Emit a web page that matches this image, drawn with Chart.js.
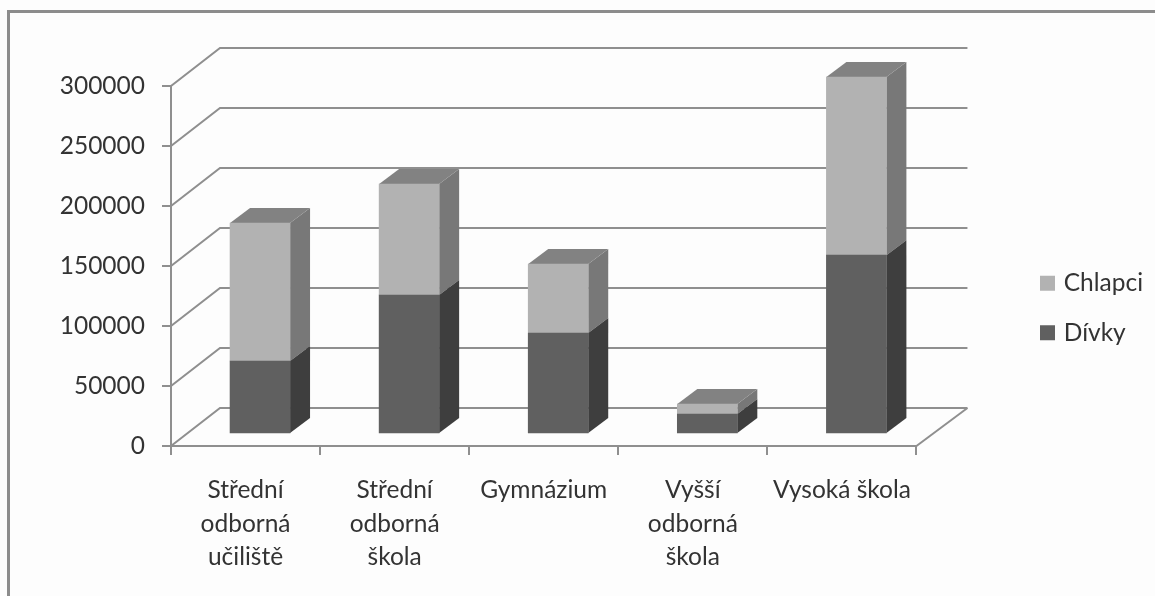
<!DOCTYPE html>
<html lang="cs">
<head>
<meta charset="utf-8">
<title>Studenti podle typu školy</title>
<style>
html,body{margin:0;padding:0;background:#fff;overflow:hidden}
#wrap{position:relative;width:1155px;height:596px}
canvas{display:block;filter:blur(0.45px)}
</style>
<script src="https://cdn.jsdelivr.net/npm/chart.js@4/dist/chart.umd.min.js"></script>
</head>
<body>
<div id="wrap"><canvas id="c" width="1155" height="596"></canvas></div>
<script>
const categories = [["Střední","odborná","učiliště"],["Střední","odborná","škola"],["Gymnázium"],["Vyšší","odborná","škola"],["Vysoká škola"]];
const divky = [60800, 115800, 84200, 16700, 149000];
const chlapci = [115000, 92500, 57500, 8300, 148500];

const WALL = {dx:49, dy:-38};
const BAR = {dx:14.5, dy:-12, depthX:20, depthY:-15};
const GRID = '#8f8f8f';
const TEXT = '#333333';
const FONT = {family:'Lato', size:24.5, lineHeight:1.35};

const faces = {
  'Dívky':   {side:'#3e3e3e', top:'#808080'},
  'Chlapci': {side:'#787878', top:'#828282'}
};

const depthPlugin = {
  id:'depth',
  beforeDraw(chart){
    const {ctx,width,height} = chart;
    ctx.save();
    ctx.fillStyle='#fdfdfd';
    ctx.fillRect(0,0,width,height);
    ctx.strokeStyle='#8c8c8c';
    ctx.lineWidth=3;
    ctx.beginPath();
    ctx.moveTo(8.5,height);ctx.lineTo(8.5,11.5);ctx.lineTo(width,11.5);
    ctx.stroke();
    ctx.restore();
  },
  beforeDatasetsDraw(chart){
    const {ctx,chartArea:a,scales:{y}} = chart;
    ctx.save();
    ctx.strokeStyle=GRID;
    ctx.lineWidth=2;
    y.ticks.forEach(t=>{
      const py=y.getPixelForValue(t.value);
      ctx.beginPath();
      ctx.moveTo(a.left,py);
      ctx.lineTo(a.left+WALL.dx,py+WALL.dy);
      ctx.lineTo(a.right+WALL.dx+2,py+WALL.dy);
      ctx.stroke();
    });
    const p0=y.getPixelForValue(0);
    ctx.beginPath();
    ctx.moveTo(a.right,p0);
    ctx.lineTo(a.right+WALL.dx+2,p0+WALL.dy);
    ctx.stroke();
    ctx.restore();
  },
  beforeDatasetDraw(chart,args){
    const {ctx} = chart;
    const ds = chart.data.datasets[args.index];
    const f = faces[ds.label];
    const isTop = args.index===chart.data.datasets.length-1;
    ctx.save();
    ctx.translate(BAR.dx,BAR.dy);
    args.meta.data.forEach(el=>{
      const {x,y,base,width} = el.getProps(['x','y','base','width'],true);
      const r=x+width/2, l=x-width/2;
      ctx.fillStyle=f.side;
      ctx.beginPath();
      ctx.moveTo(r,y);ctx.lineTo(r+BAR.depthX,y+BAR.depthY);
      ctx.lineTo(r+BAR.depthX,base+BAR.depthY);ctx.lineTo(r,base);
      ctx.closePath();ctx.fill();
      if(isTop){
        ctx.fillStyle=f.top;
        ctx.beginPath();
        ctx.moveTo(l,y);ctx.lineTo(l+BAR.depthX,y+BAR.depthY);
        ctx.lineTo(r+BAR.depthX,y+BAR.depthY);ctx.lineTo(r,y);
        ctx.closePath();ctx.fill();
      }
    });
  },
  afterDatasetDraw(chart){
    chart.ctx.restore();
  },
  afterLayout(chart){
    const lg=chart.legend;
    const w=lg.width;
    lg.left=1018.5; lg.right=lg.left+w;
    lg.top=10; lg.bottom=lg.top+596;
  }
};

const chart = new Chart(document.getElementById('c'),{
  type:'bar',
  data:{
    labels:categories,
    datasets:[
      {label:'Dívky',data:divky,backgroundColor:'#606060',barThickness:60,clip:false,stack:'s'},
      {label:'Chlapci',data:chlapci,backgroundColor:'#b2b2b2',barThickness:60,clip:false,stack:'s'}
    ]
  },
  plugins:[depthPlugin],
  options:{
    responsive:false,
    animation:false,
    events:[],
    layout:{padding:{top:86,left:0,right:104,bottom:0}},
    plugins:{
      title:{display:false},
      tooltip:{enabled:false},
      legend:{
        position:'right',
        reverse:true,
        labels:{
          boxWidth:8,boxHeight:8,padding:25,color:TEXT,font:FONT,
          generateLabels(c){
            return Chart.defaults.plugins.legend.labels.generateLabels(c)
              .map(i=>({...i,strokeStyle:i.fillStyle,lineWidth:7}));
          }
        }
      }
    },
    scales:{
      x:{
        stacked:true,
        border:{color:GRID,width:2},
        grid:{drawOnChartArea:false,color:GRID,lineWidth:2,tickLength:9,offset:true},
        ticks:{color:TEXT,font:FONT,padding:19,autoSkip:false,maxRotation:0,minRotation:0},
        afterFit(s){s.height=150;}
      },
      y:{
        stacked:true,
        min:0,max:300000,
        border:{color:GRID,width:2},
        grid:{drawOnChartArea:false,color:GRID,lineWidth:2,tickLength:9},
        ticks:{color:TEXT,font:FONT,padding:17,stepSize:50000,callback:v=>String(v)},
        afterFit(s){s.width=171;}
      }
    }
  }
});
</script>
</body>
</html>
